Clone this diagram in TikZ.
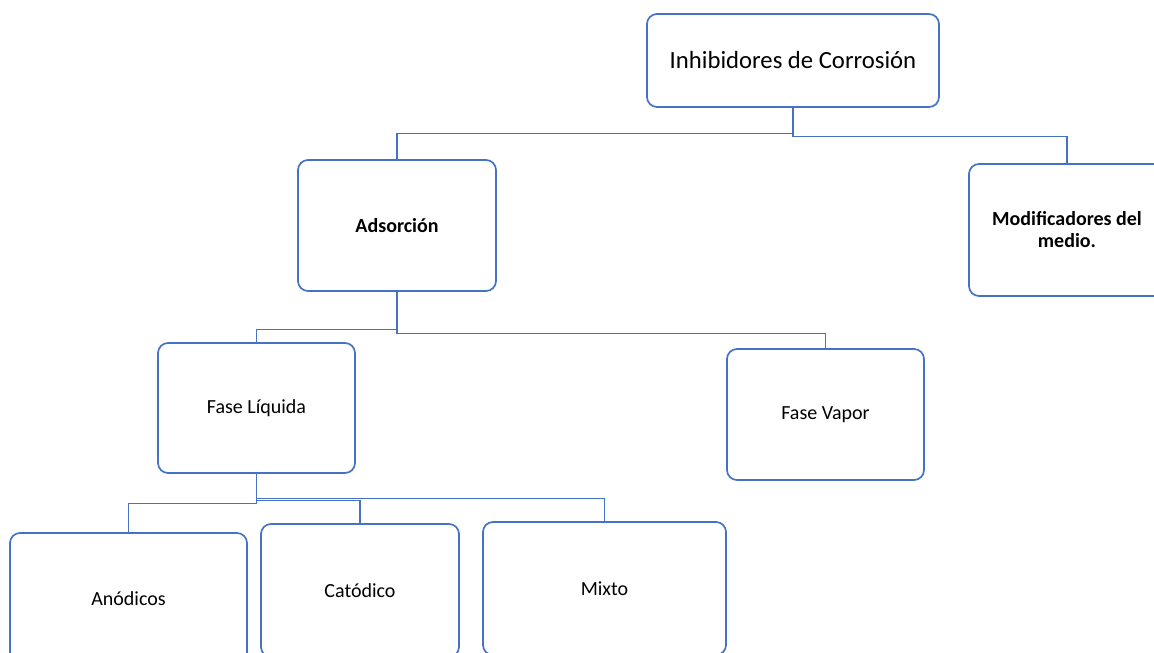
\documentclass[tikz,border=0pt]{standalone}
\usepackage{fontspec}
\setmainfont{Carlito}
\definecolor{ob}{HTML}{4472C4}
\begin{document}
\begin{tikzpicture}[x=1pt,y=-1pt,
  box/.style={draw=ob, line width=1.7pt, rounded corners=10pt, fill=white,
    inner sep=0pt, align=center, font=\fontsize{20}{22}\selectfont},
  conn/.style={draw=ob, line width=1.2pt}]
\clip (0,0) rectangle (1154,653);
\node[box, minimum width=292pt, minimum height=93pt, font=\fontsize{24.7}{28}\selectfont] (root) at (793,60.5) {Inhibidores de Corrosión};
\node[box, minimum width=198pt, minimum height=131pt, font=\fontsize{20}{22}\selectfont\bfseries] (ads) at (397,225.5) {Adsorción};
\node[box, minimum width=196pt, minimum height=132pt, font=\fontsize{20}{22}\selectfont\bfseries] (mod) at (1067,230) {Modificadores del\\medio.};
\node[box, minimum width=197pt, minimum height=130pt] (liq) at (256.5,408) {Fase Líquida};
\node[box, minimum width=197pt, minimum height=131pt] (vap) at (825.5,414.5) {Fase Vapor};
\node[box, minimum width=237pt, minimum height=131pt] (ano) at (128.5,598.5) {Anódicos};
\node[box, minimum width=198pt, minimum height=133pt] (cat) at (360,590.5) {Catódico};
\node[box, minimum width=243pt, minimum height=133pt] (mix) at (604.5,588.5) {Mixto};
\draw[conn] (root.south) -- ++(0,26) -| (ads.north);
\draw[conn] (root.south) -- ++(0,29) -| (mod.north);
\draw[conn] (ads.south) -- ++(0,38) -| (liq.north);
\draw[conn] (ads.south) -- ++(0,42) -| (vap.north);
\draw[conn] (liq.south) -- ++(0,30) -| (ano.north);
\draw[conn] (liq.south) -- ++(0,27) -| (cat.north);
\draw[conn] (liq.south) -- ++(0,25) -| (mix.north);
\end{tikzpicture}
\end{document}
